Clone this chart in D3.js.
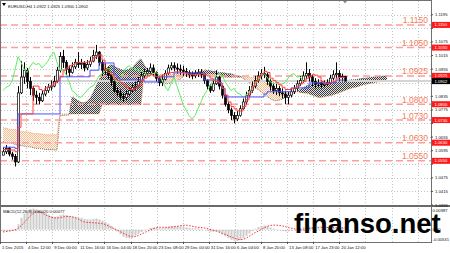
<!DOCTYPE html>
<html lang="en">
<head>
<meta charset="UTF-8">
<title>EURUSD H4</title>
<script src="https://cdn.jsdelivr.net/npm/d3@7"></script>
<style>
  body { margin: 0; background: #fff; }
  svg { display: block; font-family: "Liberation Sans", Arial, sans-serif; }
</style>
</head>
<body>
<div id="wrapper"></div>
<script>
// ---- data (H4 candles, two bars per candle) ----
const firstOpen = 1.0575
const closes = [1.0590,1.0605,1.0580,1.0570,1.0545,1.0850,1.0920,1.0950,1.0900,1.0870,1.0840,1.0830,1.0815,1.0845,1.0860,1.0875,1.0880,1.0900,1.0950,1.1010,
  1.0985,1.0955,1.0940,1.0965,1.0985,1.0975,1.0980,1.0960,1.0975,1.0990,1.1015,1.1030,1.0985,1.0950,1.0955,1.0930,1.0900,1.0860,1.0850,1.0835,
  1.0830,1.0845,1.0860,1.0875,1.0880,1.0900,1.0925,1.0935,1.0945,1.0960,1.0940,1.0915,1.0895,1.0910,1.0935,1.0960,1.0970,1.0960,1.0955,1.0950,
  1.0945,1.0940,1.0930,1.0925,1.0935,1.0940,1.0930,1.0905,1.0880,1.0860,1.0890,1.0920,1.0880,1.0840,1.0800,1.0775,1.0750,1.0735,1.0750,1.0780,
  1.0810,1.0840,1.0860,1.0880,1.0905,1.0925,1.0935,1.0930,1.0900,1.0880,1.0860,1.0870,1.0850,1.0845,1.0830,1.0840,1.0855,1.0870,1.0890,1.0905,
  1.0925,1.0935,1.0920,1.0900,1.0890,1.0895,1.0885,1.0890,1.0895,1.0915,1.0930,1.0935,1.0920,1.0922,1.0902]
const highs = [1.0610,1.0620,1.0612,1.0590,1.0580,1.0880,1.0990,1.0985,1.0960,1.0920,1.0880,1.0860,1.0850,1.0860,1.0880,1.0890,1.0905,1.0925,1.0965,1.1030,
  1.1040,1.0995,1.0970,1.0985,1.1000,1.1030,1.1000,1.0990,1.0995,1.1010,1.1040,1.1062,1.1035,1.0995,1.0980,1.0965,1.0940,1.0905,1.0875,1.0865,
  1.0850,1.0860,1.0875,1.0890,1.0900,1.0920,1.0945,1.0955,1.0960,1.0980,1.0975,1.0945,1.0925,1.0930,1.0950,1.0975,1.0985,1.0985,1.0980,1.0975,
  1.0970,1.0960,1.0950,1.0945,1.0950,1.0955,1.0955,1.0935,1.0910,1.0890,1.0910,1.0950,1.0925,1.0885,1.0845,1.0810,1.0785,1.0765,1.0770,1.0795,
  1.0825,1.0855,1.0880,1.0900,1.0925,1.0945,1.0955,1.0965,1.0940,1.0910,1.0895,1.0890,1.0880,1.0870,1.0860,1.0855,1.0870,1.0885,1.0905,1.0925,
  1.0945,1.0985,1.0955,1.0930,1.0915,1.0910,1.0905,1.0905,1.0910,1.0930,1.0950,1.0985,1.0950,1.0935,1.0925]
const lows = [1.0575,1.0580,1.0570,1.0555,1.0525,1.0540,1.0845,1.0890,1.0870,1.0840,1.0815,1.0800,1.0800,1.0810,1.0835,1.0850,1.0860,1.0875,1.0895,1.0940,
  1.0960,1.0930,1.0920,1.0935,1.0955,1.0960,1.0955,1.0945,1.0950,1.0965,1.0985,1.1000,1.0970,1.0925,1.0930,1.0910,1.0880,1.0850,1.0835,1.0820,
  1.0810,1.0820,1.0835,1.0850,1.0860,1.0875,1.0900,1.0915,1.0925,1.0935,1.0925,1.0900,1.0880,1.0880,1.0905,1.0930,1.0950,1.0945,1.0935,1.0930,
  1.0925,1.0920,1.0915,1.0910,1.0915,1.0920,1.0915,1.0890,1.0865,1.0850,1.0855,1.0885,1.0865,1.0825,1.0790,1.0760,1.0730,1.0715,1.0725,1.0745,
  1.0775,1.0800,1.0830,1.0850,1.0870,1.0895,1.0910,1.0915,1.0885,1.0860,1.0845,1.0840,1.0835,1.0825,1.0800,1.0800,1.0830,1.0845,1.0860,1.0880,
  1.0895,1.0910,1.0900,1.0880,1.0870,1.0875,1.0870,1.0875,1.0880,1.0890,1.0905,1.0915,1.0900,1.0900,1.0900]

// Ichimoku
const tenkan = [1.0600,1.0600,1.0598,1.0598,1.0590,1.0698,1.0757,1.0757,1.0757,1.0757,1.0880,1.0880,1.0865,1.0860,1.0872,1.0880,1.0885,1.0894,1.0905,1.0921,
  1.0950,1.0960,1.0970,1.0975,1.0982,1.0985,1.0985,1.0985,1.0987,1.0990,1.1005,1.1012,1.1018,1.0995,1.0951,1.0940,1.0930,1.0910,1.0905,1.0895,
  1.0885,1.0875,1.0865,1.0865,1.0870,1.0885,1.0905,1.0915,1.0925,1.0930,1.0925,1.0921,1.0921,1.0930,1.0935,1.0938,1.0940,1.0943,1.0943,1.0940,
  1.0938,1.0935,1.0932,1.0930,1.0930,1.0932,1.0935,1.0930,1.0925,1.0915,1.0905,1.0900,1.0895,1.0870,1.0840,1.0810,1.0790,1.0780,1.0770,1.0770,
  1.0790,1.0820,1.0850,1.0880,1.0900,1.0921,1.0935,1.0945,1.0940,1.0915,1.0905,1.0895,1.0885,1.0875,1.0865,1.0865,1.0868,1.0872,1.0880,1.0890,
  1.0900,1.0915,1.0925,1.0930,1.0928,1.0920,1.0900,1.0892,1.0890,1.0895,1.0900,1.0915,1.0918,1.0918,1.0918]
const kijun = [1.0610,1.0610,1.0610,1.0610,1.0605,1.0757,1.0757,1.0757,1.0757,1.0757,1.0757,1.0757,1.0757,1.0757,1.0757,1.0757,1.0757,1.0757,1.0757,1.0921,
  1.0921,1.0921,1.0921,1.0921,1.0921,1.0921,1.0921,1.0921,1.0921,1.0950,1.0950,1.0950,1.0982,1.0982,1.0982,1.0982,1.0982,1.0930,1.0916,1.0907,
  1.0907,1.0907,1.0907,1.0907,1.0907,1.0907,1.0907,1.0898,1.0898,1.0898,1.0898,1.0898,1.0921,1.0921,1.0921,1.0921,1.0921,1.0938,1.0938,1.0938,
  1.0938,1.0938,1.0938,1.0938,1.0938,1.0938,1.0938,1.0907,1.0907,1.0907,1.0907,1.0907,1.0894,1.0870,1.0832,1.0832,1.0832,1.0832,1.0832,1.0832,
  1.0832,1.0832,1.0832,1.0832,1.0832,1.0832,1.0832,1.0845,1.0855,1.0855,1.0855,1.0855,1.0855,1.0855,1.0855,1.0855,1.0872,1.0872,1.0872,1.0872,
  1.0872,1.0872,1.0894,1.0894,1.0894,1.0894,1.0894,1.0894,1.0894,1.0894,1.0894,1.0907,1.0907,1.0907,1.0907]
const chikouShift = 14
// cloud runs 14 candles past the last bar
const spanA = [1.0634,1.0630,1.0628,1.0628,1.0622,1.0618,1.0618,1.0615,1.0612,1.0612,1.0608,1.0605,1.0605,1.0603,1.0600,1.0600,1.0600,1.0598,1.0598,1.0750,
  1.0750,1.0752,1.0752,1.0832,1.0825,1.0815,1.0808,1.0806,1.0812,1.0825,1.0850,1.0880,1.0905,1.0935,1.0950,1.0965,1.0975,1.0970,1.0960,1.0955,
  1.0950,1.0950,1.0955,1.0960,1.0975,1.0990,1.1000,1.0975,1.0955,1.0945,1.0930,1.0910,1.0900,1.0895,1.0892,1.0890,1.0895,1.0900,1.0905,1.0910,
  1.0920,1.0930,1.0935,1.0938,1.0940,1.0942,1.0945,1.0948,1.0950,1.0948,1.0945,1.0945,1.0940,1.0940,1.0938,1.0935,1.0935,1.0930,1.0925,1.0925,
  1.0915,1.0905,1.0895,1.0885,1.0875,1.0865,1.0855,1.0845,1.0835,1.0825,1.0818,1.0815,1.0818,1.0822,1.0828,1.0835,1.0842,1.0850,1.0858,1.0865,
  1.0872,1.0880,1.0885,1.0888,1.0890,1.0890,1.0892,1.0892,1.0895,1.0895,1.0898,1.0900,1.0900,1.0902,1.0905,1.0905,1.0908,1.0908,1.0910,1.0912,
  1.0915,1.0915,1.0918,1.0920,1.0920,1.0922,1.0923,1.0925,1.0925]
const spanB = [1.0696,1.0694,1.0690,1.0688,1.0688,1.0684,1.0680,1.0678,1.0678,1.0675,1.0672,1.0670,1.0670,1.0668,1.0666,1.0665,1.0665,1.0665,1.0665,1.0757,
  1.0757,1.0757,1.0757,1.0757,1.0757,1.0757,1.0757,1.0757,1.0757,1.0757,1.0757,1.0757,1.0757,1.0797,1.0797,1.0797,1.0797,1.0797,1.0797,1.0797,
  1.0797,1.0797,1.0797,1.0797,1.0797,1.0797,1.0797,1.0931,1.0931,1.0931,1.0931,1.0931,1.0931,1.0931,1.0931,1.0931,1.0931,1.0931,1.0931,1.0931,
  1.0931,1.0931,1.0931,1.0931,1.0931,1.0931,1.0931,1.0931,1.0931,1.0931,1.0931,1.0931,1.0931,1.0918,1.0918,1.0918,1.0918,1.0918,1.0918,1.0918,
  1.0918,1.0918,1.0918,1.0918,1.0918,1.0918,1.0918,1.0900,1.0890,1.0885,1.0880,1.0860,1.0858,1.0855,1.0855,1.0855,1.0855,1.0855,1.0855,1.0852,
  1.0850,1.0848,1.0845,1.0840,1.0835,1.0830,1.0830,1.0832,1.0835,1.0838,1.0840,1.0845,1.0850,1.0855,1.0860,1.0865,1.0870,1.0873,1.0876,1.0880,
  1.0885,1.0888,1.0890,1.0893,1.0895,1.0898,1.0900,1.0903,1.0905]

// MACD(12,26,9)
const macd = [-0.0008,-0.0006,-0.0006,-0.0004,-0.0006,0.0025,0.0055,0.0075,0.0090,0.0096,0.0098,0.0095,0.0090,0.0084,0.0077,0.0070,0.0064,0.0060,0.0062,0.0068,
  0.0071,0.0068,0.0064,0.0062,0.0060,0.0058,0.0055,0.0050,0.0048,0.0048,0.0050,0.0052,0.0048,0.0042,0.0036,0.0028,0.0018,0.0006,-0.0008,-0.0022,
  -0.0033,-0.0039,-0.0040,-0.0036,-0.0028,-0.0020,-0.0011,-0.0004,0.0002,0.0008,0.0010,0.0008,0.0006,0.0007,0.0010,0.0014,0.0017,0.0018,0.0017,0.0015,
  0.0013,0.0011,0.0009,0.0007,0.0006,0.0006,0.0004,0.0000,-0.0005,-0.0010,-0.0010,-0.0008,-0.0014,-0.0022,-0.0031,-0.0040,-0.0047,-0.0052,-0.0053,-0.0049,
  -0.0040,-0.0029,-0.0018,-0.0007,0.0004,0.0012,0.0017,0.0019,0.0016,0.0010,0.0005,0.0002,-0.0002,-0.0005,-0.0008,-0.0008,-0.0005,-0.0001,0.0003,0.0008,
  0.0012,0.0016,0.0015,0.0011,0.0008,0.0006,0.0004,0.0004,0.0004,0.0007,0.0010,0.0012,0.0010,0.0008,0.0004]
const signal = [-0.0011,-0.0009,-0.0007,-0.0004,-0.0001,0.0005,0.0018,0.0032,0.0048,0.0062,0.0075,0.0084,0.0083,0.0078,0.0070,0.0064,0.0058,0.0055,0.0054,0.0056,
  0.0059,0.0061,0.0062,0.0060,0.0056,0.0050,0.0042,0.0036,0.0034,0.0033,0.0032,0.0031,0.0030,0.0028,0.0024,0.0018,0.0011,0.0005,-0.0002,-0.0009,
  -0.0016,-0.0023,-0.0030,-0.0034,-0.0033,-0.0028,-0.0022,-0.0015,-0.0008,-0.0002,0.0004,0.0009,0.0011,0.0011,0.0011,0.0011,0.0012,0.0013,0.0015,0.0018,
  0.0020,0.0021,0.0019,0.0016,0.0013,0.0011,0.0010,0.0008,0.0005,0.0001,-0.0002,-0.0006,-0.0011,-0.0017,-0.0022,-0.0028,-0.0034,-0.0039,-0.0044,-0.0047,
  -0.0046,-0.0040,-0.0032,-0.0022,-0.0014,-0.0008,0.0000,0.0008,0.0015,0.0019,0.0021,0.0021,0.0020,0.0018,0.0014,0.0010,0.0007,0.0004,0.0001,-0.0001,
  -0.0002,0.0000,0.0004,0.0008,0.0010,0.0011,0.0011,0.0011,0.0010,0.0010,0.0009,0.0009,0.0009,0.0008,0.0008]

// levels, ticks, labels
const levels = [1.1150, 1.1050, 1.0925, 1.0800, 1.0730, 1.0630, 1.0550]
const lastPrice = 1.0902
const priceTicks = [1.0355,1.0415,1.0475,1.0535,1.0595,1.0655,1.0715,1.0775,1.0835,1.0895,1.0955,1.1015,1.1075,1.1135,1.1195]
const macdTicks = [0.00987, 0, -0.00531]
const macdTickLabels = ["0.00987", "0.00", "-0.00531"]
const timeTickBars = [-1, 7.7, 16.4, 25.1, 33.8, 42.5, 51.2, 59.9, 68.6, 77.3, 86, 94.7, 103.4, 112.1, 120.8, 129.5, 138.2]
const timeLabels = ["1 Dec 2015", "4 Dec 12:00", "9 Dec 00:00", "11 Dec 16:00", "16 Dec 04:00", "18 Dec 20:00", "23 Dec 08:00",
  "29 Dec 00:00", "31 Dec 16:00", "6 Jan 04:00", "8 Jan 20:00", "13 Jan 08:00", "17 Jan 23:00", "20 Jan 12:00"]
const chartTitle = "EURUSD,H4  1.0922 1.0925 1.0900 1.0902"
const macdTitle = "MACD(12,26,9) 0.00020 0.00077"

// ---- layout ----
const dims = { width: 450, height: 253, plotRight: 431, mainTop: 5, mainBottom: 205, macdTop: 208.5, macdBottom: 241, axisY: 242 }

const svg = d3.select("#wrapper").append("svg")
  .attr("width", dims.width).attr("height", dims.height)

const x = d3.scaleLinear().domain([0, 128]).range([3, 387])
const y = d3.scaleLinear().domain([1.0355, 1.1238]).range([dims.mainBottom, dims.mainTop])
const ym = d3.scaleLinear().domain([-0.00531, 0.00987]).range([dims.macdBottom, dims.macdTop])

const defs = svg.append("defs")
defs.append("clipPath").attr("id", "mainClip").append("rect")
  .attr("x", 1).attr("y", 1).attr("width", dims.plotRight - 1).attr("height", dims.mainBottom - 1)
defs.append("clipPath").attr("id", "macdClip").append("rect")
  .attr("x", 1).attr("y", 207).attr("width", dims.plotRight - 1).attr("height", 35)

function dotPattern(id, color, bg) {
  const p = defs.append("pattern").attr("id", id)
    .attr("width", 2).attr("height", 2).attr("patternUnits", "userSpaceOnUse")
  if (bg) p.append("rect").attr("width", 2).attr("height", 2).attr("fill", bg)
  p.append("rect").attr("width", 1).attr("height", 1).attr("fill", color)
  p.append("rect").attr("x", 1).attr("y", 1).attr("width", 1).attr("height", 1).attr("fill", color)
}
dotPattern("cloudUp", "#3c3c3c", "#e2e2e2")
dotPattern("cloudDown", "#f4c096", "#fff6ee")

// ---- grid ----
const grid = svg.append("g").attr("stroke", "#c4c4c4").attr("stroke-dasharray", "1,2").attr("stroke-width", 1)
grid.selectAll(".vg").data(timeTickBars).join("line")
  .attr("x1", d => Math.round(x(d)) + 0.5).attr("x2", d => Math.round(x(d)) + 0.5)
  .attr("y1", 1).attr("y2", dims.axisY)
grid.selectAll(".hg").data(priceTicks).join("line")
  .attr("x1", 1).attr("x2", dims.plotRight)
  .attr("y1", d => Math.round(y(d)) + 0.5).attr("y2", d => Math.round(y(d)) + 0.5)
grid.append("line").attr("x1", 1).attr("x2", dims.plotRight)
  .attr("y1", Math.round(ym(0)) + 0.5).attr("y2", Math.round(ym(0)) + 0.5)

// ---- main panel ----
const main = svg.append("g").attr("clip-path", "url(#mainClip)")

// cloud
const cloudArea = d3.area().x(d => x(d.i)).y0(d => y(d.a)).y1(d => y(d.b))
for (let i = 0; i < spanA.length - 1; i++) {
  const seg = [{ i: i, a: spanA[i], b: spanB[i] }, { i: i + 1, a: spanA[i + 1], b: spanB[i + 1] }]
  const up = (spanA[i] + spanA[i + 1]) >= (spanB[i] + spanB[i + 1])
  main.append("path").attr("d", cloudArea(seg)).attr("fill", up ? "url(#cloudUp)" : "url(#cloudDown)")
}
main.append("path").datum(spanA)
  .attr("d", d3.line().x((d, i) => x(i)).y(d => y(d)))
  .attr("fill", "none").attr("stroke", "#555").attr("stroke-width", 0.8).attr("stroke-dasharray", "1,1")
main.append("path").datum(spanB)
  .attr("d", d3.line().x((d, i) => x(i)).y(d => y(d)))
  .attr("fill", "none").attr("stroke", "#e8944e").attr("stroke-width", 0.8).attr("stroke-dasharray", "1,1")

// bid line
main.append("line").attr("x1", 0).attr("x2", dims.plotRight)
  .attr("y1", y(lastPrice)).attr("y2", y(lastPrice))
  .attr("stroke", "#d4d4d4").attr("stroke-width", 2)

// levels
main.selectAll(".lvl").data(levels).join("line")
  .attr("x1", 0).attr("x2", dims.plotRight)
  .attr("y1", d => y(d)).attr("y2", d => y(d))
  .attr("stroke", "#ff9c9c").attr("stroke-width", 1.5).attr("stroke-dasharray", "7,4")

// candles
const candles = closes.map((c, i) => ({ i, o: i === 0 ? firstOpen : closes[i - 1], h: highs[i], l: lows[i], c }))
const cg = main.append("g")
cg.selectAll(".wick").data(candles).join("line")
  .attr("x1", d => x(d.i) + 0.5).attr("x2", d => x(d.i) + 0.5)
  .attr("y1", d => y(d.h)).attr("y2", d => y(d.l))
  .attr("stroke", "#000").attr("stroke-width", 1)
cg.selectAll(".body").data(candles).join("rect")
  .attr("x", d => x(d.i) - 0.5).attr("width", 2)
  .attr("y", d => y(Math.max(d.o, d.c)))
  .attr("height", d => Math.max(1, Math.abs(y(d.o) - y(d.c))))
  .attr("fill", d => d.c >= d.o ? "#fff" : "#000")
  .attr("stroke", "#000").attr("stroke-width", 0.7)

// ichimoku lines
const line = d3.line().x((d, i) => x(i)).y(d => y(d))
main.append("path").datum(closes.slice(chikouShift))
  .attr("d", line).attr("fill", "none").attr("stroke", "#5ef05e").attr("stroke-width", 1)
main.append("path").datum(kijun)
  .attr("d", d3.line().curve(d3.curveStepAfter).x((d, i) => x(i)).y(d => y(d)))
  .attr("fill", "none").attr("stroke", "#5050ff").attr("stroke-width", 1)
main.append("path").datum(tenkan)
  .attr("d", d3.line().curve(d3.curveStepAfter).x((d, i) => x(i)).y(d => y(d)))
  .attr("fill", "none").attr("stroke", "#ff4040").attr("stroke-width", 1)

// level labels
svg.selectAll(".lvlLabel").data(levels).join("text")
  .attr("x", 428).attr("y", d => y(d) - 1.5)
  .attr("text-anchor", "end").attr("font-size", 8.5).attr("fill", "#fa7a58")
  .text(d => d.toFixed(4))

// ---- MACD panel ----
const mg = svg.append("g").attr("clip-path", "url(#macdClip)")
mg.selectAll(".hist").data(macd).join("rect")
  .attr("x", (d, i) => x(i) - 0.5).attr("width", 2)
  .attr("y", d => Math.min(ym(d), ym(0)))
  .attr("height", d => Math.abs(ym(d) - ym(0)))
  .attr("fill", "#cccccc")
mg.append("path").datum(signal)
  .attr("d", d3.line().x((d, i) => x(i)).y(d => ym(d)))
  .attr("fill", "none").attr("stroke", "#ff3030").attr("stroke-width", 1).attr("stroke-dasharray", "1.5,1.5")

// ---- frame & axes ----
const frame = svg.append("g").attr("stroke", "#707070").attr("fill", "none")
frame.append("rect").attr("x", 0.5).attr("y", 0.5).attr("width", dims.plotRight).attr("height", dims.axisY)
frame.append("line").attr("x1", 0).attr("x2", dims.width).attr("y1", 206).attr("y2", 206)
  .attr("stroke-width", 2).attr("stroke", "#6a6a6a")

const axisFont = 4.2
// axis labels that would sit under a price tag are left out, as on the terminal
const tagPrices = levels.concat([lastPrice])
const freeTicks = priceTicks.filter(t => tagPrices.every(v => Math.abs(y(v) - y(t)) > 4))
svg.selectAll(".ptick").data(priceTicks).join("line")
  .attr("x1", dims.plotRight).attr("x2", dims.plotRight + 2)
  .attr("y1", d => y(d)).attr("y2", d => y(d)).attr("stroke", "#555")
svg.selectAll(".plab").data(freeTicks).join("text")
  .attr("x", 435).attr("y", d => y(d) + 1.5)
  .attr("font-size", axisFont).attr("fill", "#111")
  .text(d => d.toFixed(4))

svg.selectAll(".mlab").data(macdTicks).join("text")
  .attr("x", 432.5).attr("y", (d, i) => ym(d) + [3, 1.5, 0][i])
  .attr("font-size", axisFont).attr("fill", "#111")
  .text((d, i) => macdTickLabels[i])

// price tags
const tags = svg.append("g")
levels.forEach(v => {
  tags.append("rect").attr("x", 432).attr("y", y(v) - 3).attr("width", 18).attr("height", 6).attr("fill", "#ff1a1a")
  tags.append("text").attr("x", 434.5).attr("y", y(v) + 1.5).attr("font-size", axisFont).attr("fill", "#fff").text(v.toFixed(4))
})
tags.append("rect").attr("x", 432).attr("y", y(lastPrice) - 3).attr("width", 18).attr("height", 6).attr("fill", "#000")
tags.append("text").attr("x", 434.5).attr("y", y(lastPrice) + 1.5).attr("font-size", axisFont).attr("fill", "#fff").text(lastPrice.toFixed(4))

// time axis
const timeIdx = timeLabels.map((t, k) => timeTickBars[k])
svg.selectAll(".ttick").data(timeIdx).join("line")
  .attr("x1", d => Math.round(x(d)) + 0.5).attr("x2", d => Math.round(x(d)) + 0.5)
  .attr("y1", dims.axisY).attr("y2", dims.axisY + 2).attr("stroke", "#555")
svg.selectAll(".tlab").data(timeLabels).join("text")
  .attr("x", (d, k) => x(timeTickBars[k]) + 2).attr("y", 249)
  .attr("font-size", axisFont).attr("fill", "#111")
  .text(d => d)

// titles
svg.append("path").attr("d", "M2,3 L6,3 L4,6 Z").attr("fill", "#000")
svg.append("text").attr("x", 8).attr("y", 7.5).attr("font-size", axisFont).attr("fill", "#111").text(chartTitle)
svg.append("text").attr("x", 3).attr("y", 213).attr("font-size", axisFont).attr("fill", "#111").text(macdTitle)
svg.append("path").attr("d", `M${x(114) - 2},1 L${x(114) + 2},1 L${x(114)},3.5 Z`).attr("fill", "#888")

// watermark
svg.append("text").attr("x", 294).attr("y", 233)
  .attr("font-size", 27.5).attr("font-weight", "bold").attr("fill", "#000")
  .text("finanso.net")
</script>
</body>
</html>
